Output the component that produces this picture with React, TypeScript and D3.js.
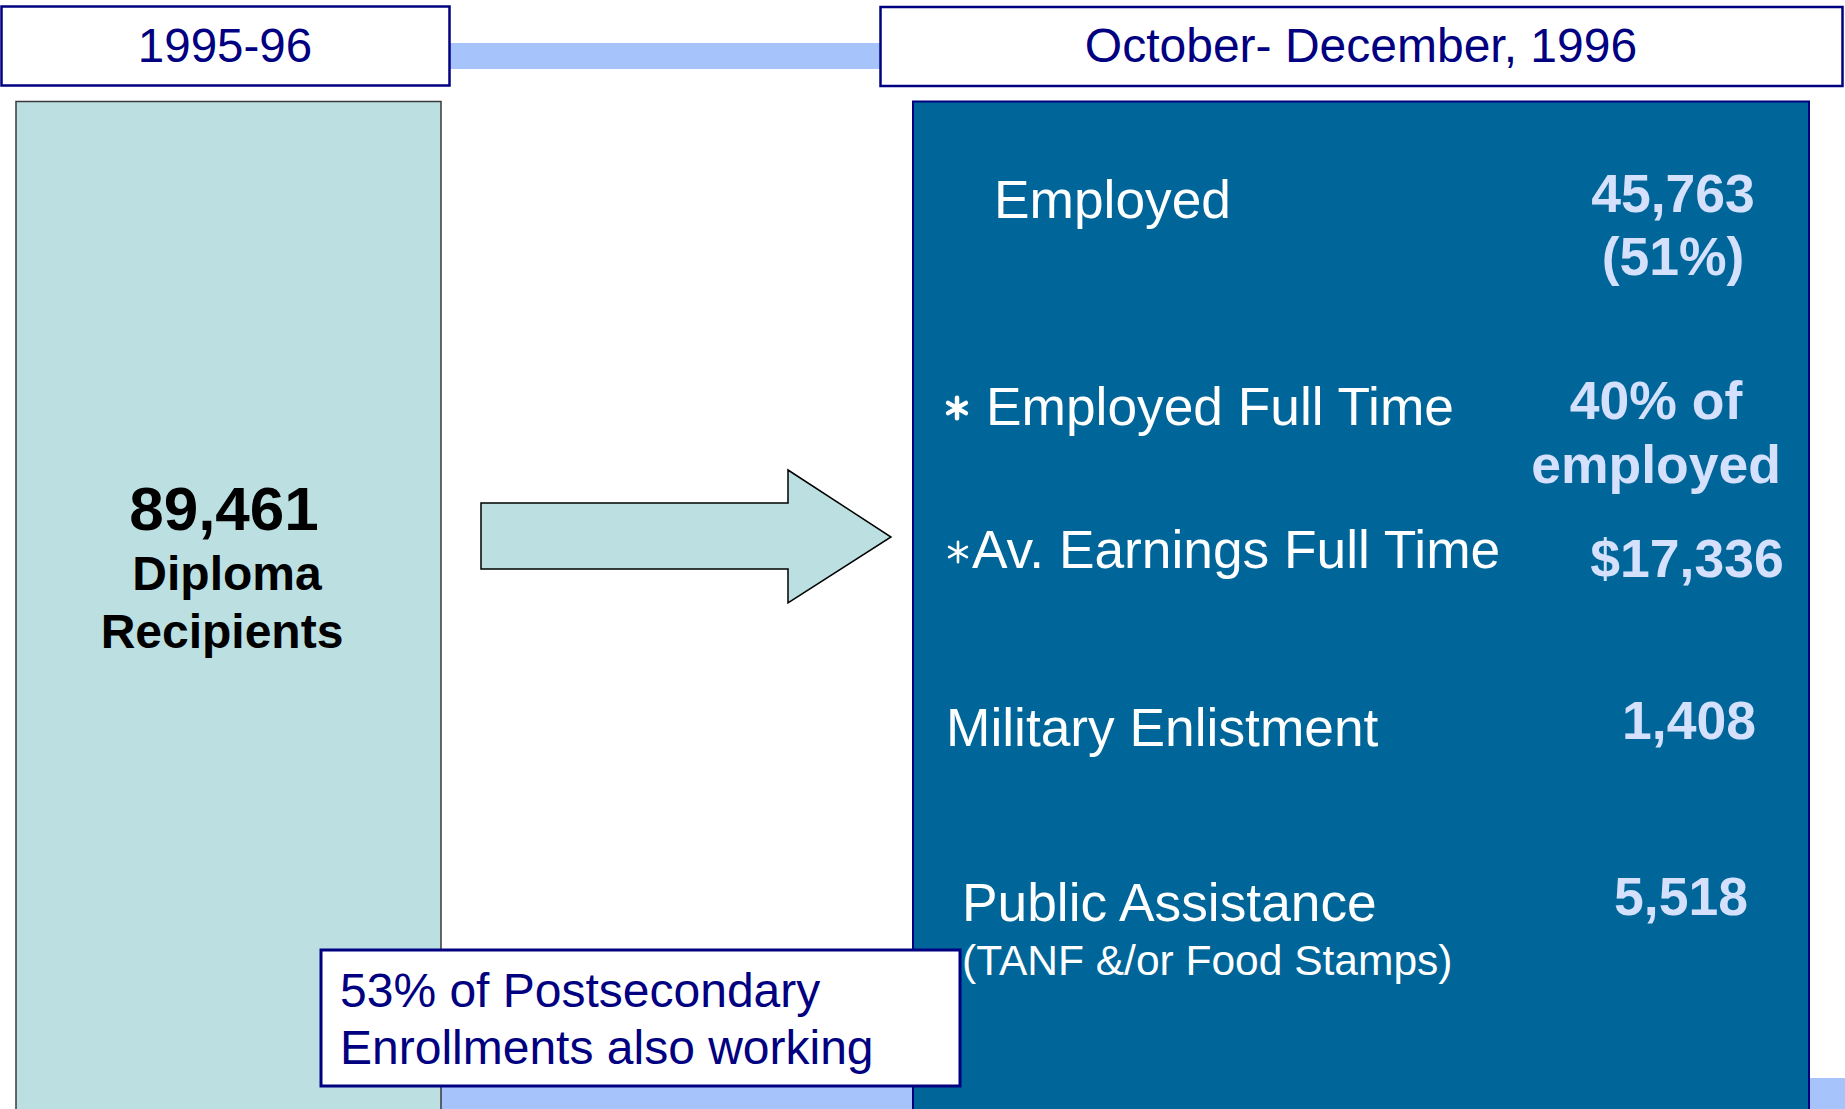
import React from "react";
import * as d3 from "d3";

// ---------- data ----------
const periodHeaders = ["1995-96", "October- December, 1996"];
const recipientsValue = "89,461";
const recipientsLabel = ["Diploma", "Recipients"];
const outcomeLabels = [
  ["Employed"],
  ["Employed Full Time"],
  ["Av. Earnings Full Time"],
  ["Military Enlistment"],
  ["Public Assistance", "(TANF &/or Food Stamps)"],
];
const outcomeStars = [false, true, true, false, false];
const outcomeValues = [
  ["45,763", "(51%)"],
  ["40% of", "employed"],
  ["$17,336"],
  ["1,408"],
  ["5,518"],
];
const calloutLines = ["53% of Postsecondary", "Enrollments also working"];

// ---------- layout ----------
const W = 1845;
const H = 1109;
const FONT = "'Liberation Sans', Arial, Helvetica, sans-serif";
const NAVY = "#000080";
const TEAL = "#bce0e2";
const DARK = "#006699";
const BAND = "#a6c4fb";
const VAL = "#d5e0fc";

const labelPos = [
  { x: 994, y: 218 },
  { x: 986, y: 425 },
  { x: 972, y: 568 },
  { x: 946, y: 746 },
  { x: 962, y: 921 },
];
const labelSub = { x: 962, y: 975 };
const valuePos = [
  { x: 1673, y: 212, dy: 63 },
  { x: 1656, y: 419, dy: 64 },
  { x: 1687, y: 577, dy: 0 },
  { x: 1689, y: 739, dy: 0 },
  { x: 1681, y: 915, dy: 0 },
];
const starPos = [
  null,
  { x: 957, y: 408, w: 4.5 },
  { x: 958, y: 552, w: 2.6 },
  null,
  null,
];

export default function App() {
  const line = d3.line();
  const arrowPts: [number, number][] = [
    [481, 503],
    [788, 503],
    [788, 470],
    [891, 537],
    [788, 603],
    [788, 569],
    [481, 569],
  ];
  const arrowPath = line(arrowPts) + "Z";
  const star = d3.symbol(d3.symbolAsterisk, 300)();

  return (
    <div style={{ position: "absolute", left: 0, top: 0 }}>
      <svg width={W} height={H} style={{ display: "block", background: "#fff" }}>
        {/* bands */}
        <rect x={449} y={43} width={431} height={26} fill={BAND} />
        <rect x={441} y={1078} width={W - 441} height={H - 1078} fill={BAND} />

        {/* header boxes */}
        <rect x={1.5} y={6.5} width={448} height={79} fill="#fff" stroke={NAVY} strokeWidth={2.5} />
        <rect x={880.5} y={7} width={962} height={79} fill="#fff" stroke={NAVY} strokeWidth={2.5} />
        <text x={225} y={62} textAnchor="middle" fontFamily={FONT} fontSize={47.5} fill={NAVY}>
          {periodHeaders[0]}
        </text>
        <text x={1361} y={62} textAnchor="middle" fontFamily={FONT} fontSize={48} fill={NAVY}>
          {periodHeaders[1]}
        </text>

        {/* left column */}
        <rect x={16} y={101.5} width={425} height={H} fill={TEAL} stroke="#3a3a3a" strokeWidth={1.5} />
        <text x={224} y={530} textAnchor="middle" fontFamily={FONT} fontWeight="bold" fontSize={62} fill="#000">
          {recipientsValue}
        </text>
        {recipientsLabel.map((t, i) => (
          <text key={t} x={i === 0 ? 227 : 222} y={590 + i * 58} textAnchor="middle" fontFamily={FONT}
            fontWeight="bold" fontSize={48} fill="#000">
            {t}
          </text>
        ))}

        {/* right box */}
        <rect x={913} y={101.5} width={896} height={H} fill={DARK} stroke={NAVY} strokeWidth={2} />

        {/* arrow */}
        <path d={arrowPath} fill={TEAL} stroke="#000" strokeWidth={1.5} />

        {/* outcomes */}
        {outcomeLabels.map((lines, i) => (
          <g key={"l" + i}>
            <text x={labelPos[i].x} y={labelPos[i].y} fontFamily={FONT} fontSize={53.3} fill="#fff">
              {lines[0]}
            </text>
            {lines[1] && (
              <text x={labelSub.x} y={labelSub.y} fontFamily={FONT} fontSize={42.5} fill="#fff">
                {lines[1]}
              </text>
            )}
            {outcomeStars[i] && starPos[i] && (
              <path d={star} transform={`translate(${starPos[i]!.x},${starPos[i]!.y})`} fill="none"
                stroke="#fff" strokeWidth={starPos[i]!.w} strokeLinecap="round" />
            )}
          </g>
        ))}
        {outcomeValues.map((vals, i) =>
          vals.map((v, j) => (
            <text key={"v" + i + j} x={valuePos[i].x} y={valuePos[i].y + j * valuePos[i].dy}
              textAnchor="middle" fontFamily={FONT} fontWeight="bold" fontSize={53.5} fill={VAL}>
              {v}
            </text>
          ))
        )}

        {/* callout */}
        <rect x={321} y={950} width={639} height={136} fill="#fff" stroke={NAVY} strokeWidth={3} />
        {calloutLines.map((t, i) => (
          <text key={t} x={340} y={1007 + i * 57} fontFamily={FONT} fontSize={48} fill={NAVY}>
            {t}
          </text>
        ))}
      </svg>
    </div>
  );
}
